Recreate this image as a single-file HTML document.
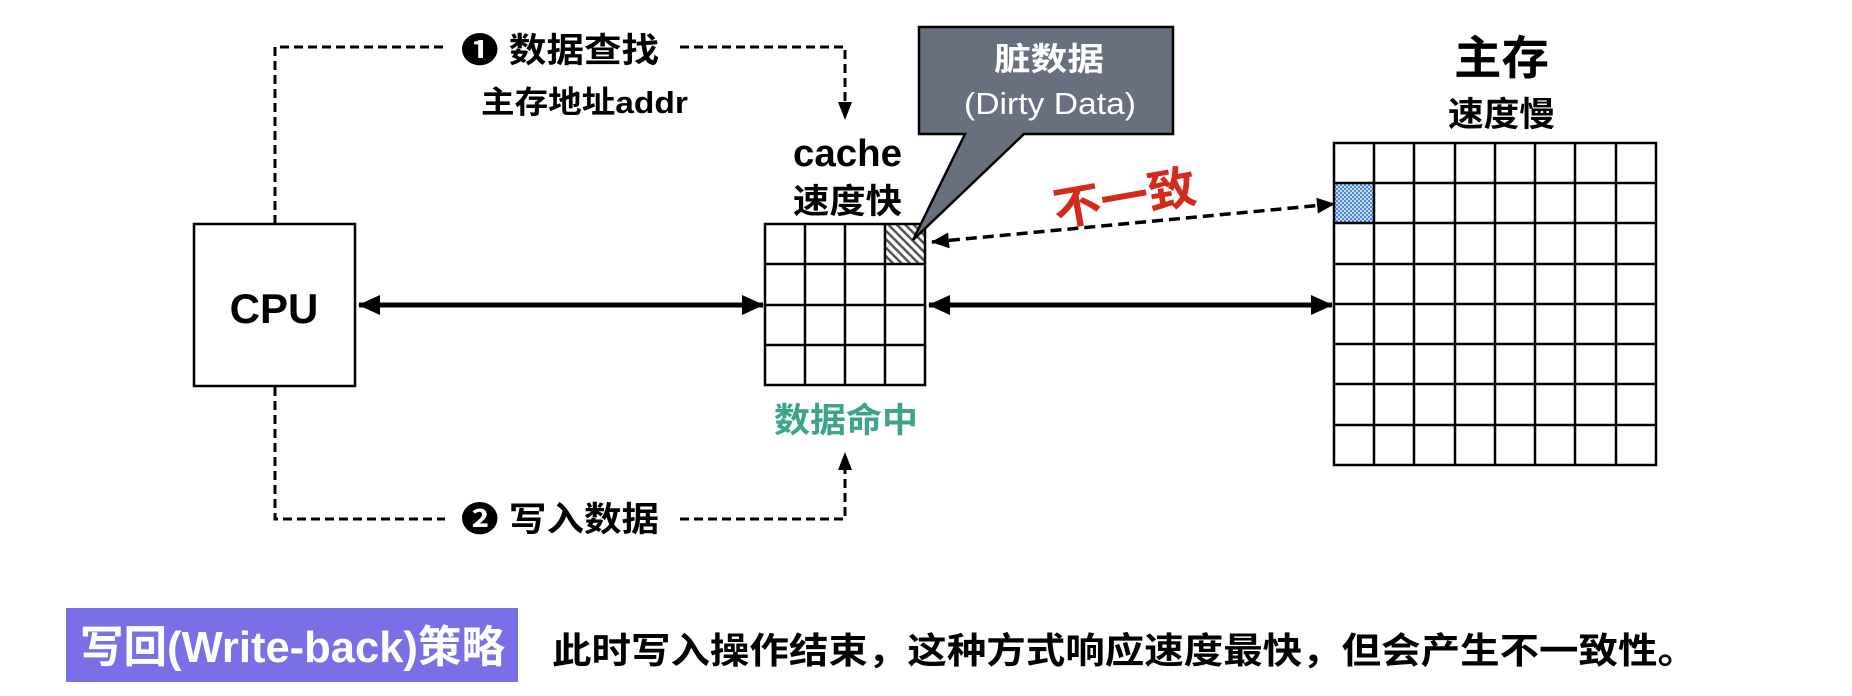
<!DOCTYPE html>
<html><head><meta charset="utf-8"><style>
html,body{margin:0;padding:0;background:#fff;width:1852px;height:696px;overflow:hidden}
svg{display:block}
text{font-family:"Liberation Sans","Noto Sans CJK SC",sans-serif;font-weight:bold}
</style></head><body>
<svg width="1852" height="696" viewBox="0 0 1852 696" xmlns="http://www.w3.org/2000/svg">
<defs>
<pattern id="hatch" width="6" height="6" patternUnits="userSpaceOnUse" patternTransform="rotate(-45)">
<rect width="6" height="6" fill="#fff"/><rect width="2.5" height="6" fill="#555"/></pattern>
<pattern id="chk" width="4" height="4" patternUnits="userSpaceOnUse">
<rect width="4" height="4" fill="#c8dcf4"/><rect width="2" height="2" fill="#4a88d8"/><rect x="2" y="2" width="2" height="2" fill="#4a88d8"/></pattern>
<marker id="bh" markerWidth="22" markerHeight="20" refX="21" refY="10" orient="auto-start-reverse" markerUnits="userSpaceOnUse"><path d="M0,0 L22,10 L0,20 z" fill="#000"/></marker>
<marker id="dh" markerWidth="18" markerHeight="16" refX="17" refY="8" orient="auto-start-reverse" markerUnits="userSpaceOnUse"><path d="M0,0 L18,8 L0,16 z" fill="#000"/></marker>
</defs>

<g stroke="#000" stroke-width="3" fill="none" stroke-dasharray="9,5">
<polyline points="275,224 275,47 445,47"/>
<polyline points="680,47 845,47 845,106"/>
<polyline points="275,387 275,519 445,519"/>
<polyline points="680,519 845,519 845,467"/>
</g>
<path d="M838,102 L845,120 L852,102 z" fill="#000"/>
<path d="M838,470 L845,452 L852,470 z" fill="#000"/>
<text x="461" y="62" font-size="34" textLength="198" lengthAdjust="spacingAndGlyphs">❶ 数据查找</text>
<text x="481" y="113" font-size="31" textLength="207" lengthAdjust="spacingAndGlyphs">主存地址addr</text>
<text x="461" y="531" font-size="34" textLength="198" lengthAdjust="spacingAndGlyphs">❷ 写入数据</text>

<rect x="194" y="224" width="161" height="162" fill="#fff" stroke="#000" stroke-width="2.5"/>
<text x="274" y="323" font-size="42" text-anchor="middle">CPU</text>

<rect x="885" y="224" width="40" height="40" fill="url(#hatch)"/>
<g stroke="#000" stroke-width="2.5" fill="none">
<rect x="765" y="224" width="160" height="161"/>
<line x1="805" y1="224" x2="805" y2="385"/><line x1="845" y1="224" x2="845" y2="385"/><line x1="885" y1="224" x2="885" y2="385"/>
<line x1="765" y1="264" x2="925" y2="264"/><line x1="765" y1="305" x2="925" y2="305"/><line x1="765" y1="345" x2="925" y2="345"/>
</g>
<text x="793" y="166" font-size="38" textLength="109" lengthAdjust="spacingAndGlyphs">cache</text>
<text x="793" y="213" font-size="34" textLength="109" lengthAdjust="spacingAndGlyphs">速度快</text>
<text x="774" y="432" font-size="34" fill="#3aa58a" textLength="144" lengthAdjust="spacingAndGlyphs">数据命中</text>

<path d="M919,27 L1173,27 L1173,134 L1024,134 L913,240 L965,134 L919,134 z" fill="#68707f" stroke="#000" stroke-width="2.5"/>
<text x="994" y="70" font-size="32" fill="#fff" textLength="110" lengthAdjust="spacingAndGlyphs">脏数据</text>
<text x="964" y="114" font-size="31" fill="#fff" style="font-weight:normal" textLength="172" lengthAdjust="spacingAndGlyphs">(Dirty Data)</text>

<text x="1052" y="214" font-size="46" fill="#d42a1e" textLength="144" lengthAdjust="spacingAndGlyphs" transform="rotate(-10 1125 195)">不一致</text>
<line x1="932" y1="242" x2="1334" y2="204" stroke="#000" stroke-width="3.5" stroke-dasharray="11,6" marker-start="url(#dh)" marker-end="url(#dh)"/>

<line x1="359" y1="305" x2="763" y2="305" stroke="#000" stroke-width="5" marker-start="url(#bh)" marker-end="url(#bh)"/>
<line x1="929" y1="305" x2="1332" y2="305" stroke="#000" stroke-width="5" marker-start="url(#bh)" marker-end="url(#bh)"/>

<text x="1454" y="74" font-size="46" textLength="95" lengthAdjust="spacingAndGlyphs">主存</text>
<text x="1448" y="126" font-size="34" textLength="107" lengthAdjust="spacingAndGlyphs">速度慢</text>
<rect x="1334" y="184" width="40" height="39" fill="url(#chk)"/>
<g stroke="#000" stroke-width="2.5" fill="none">
<rect x="1334" y="143" width="322" height="322"/>
<line x1="1374" y1="143" x2="1374" y2="465"/><line x1="1414" y1="143" x2="1414" y2="465"/><line x1="1455" y1="143" x2="1455" y2="465"/><line x1="1495" y1="143" x2="1495" y2="465"/><line x1="1535" y1="143" x2="1535" y2="465"/><line x1="1575" y1="143" x2="1575" y2="465"/><line x1="1616" y1="143" x2="1616" y2="465"/>
<line x1="1334" y1="183" x2="1656" y2="183"/><line x1="1334" y1="223" x2="1656" y2="223"/><line x1="1334" y1="264" x2="1656" y2="264"/><line x1="1334" y1="304" x2="1656" y2="304"/><line x1="1334" y1="344" x2="1656" y2="344"/><line x1="1334" y1="384" x2="1656" y2="384"/><line x1="1334" y1="425" x2="1656" y2="425"/>
</g>

<rect x="66" y="608" width="452" height="74" fill="#7b6fe6"/>
<text x="80" y="662" font-size="44" fill="#fff" textLength="425" lengthAdjust="spacingAndGlyphs">写回(Write-back)策略</text>
<text x="552" y="663" font-size="36" textLength="1145" lengthAdjust="spacingAndGlyphs">此时写入操作结束，这种方式响应速度最快，但会产生不一致性。</text>
</svg>
</body></html>
